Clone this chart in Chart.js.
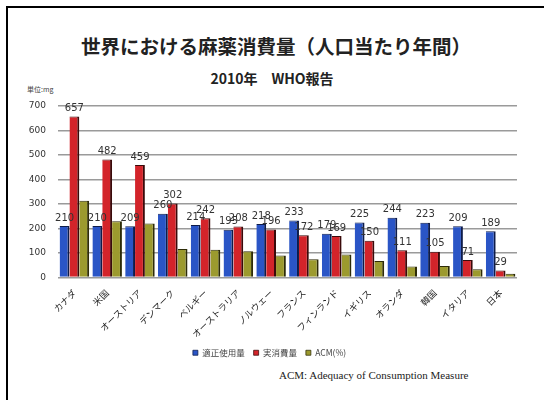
<!DOCTYPE html>
<html><head><meta charset="utf-8">
<script src="https://cdn.jsdelivr.net/npm/chart.js@4"></script>
<style>
html,body{margin:0;padding:0;background:#fff;}
#wrap{position:relative;width:544px;height:400px;overflow:hidden;background:#fff;}
#frame{position:absolute;left:6px;top:6px;width:540px;height:420px;border-left:2px solid #000;border-top:2px solid #000;border-right:2px solid #000;box-sizing:border-box;}
.t{position:absolute;white-space:nowrap;}
#title{left:4px;width:544px;top:31px;text-align:center;font:bold 19.5px "Noto Sans CJK JP";color:#222;}
#sub{left:0;width:544px;top:68px;text-align:center;font:bold 14px "Noto Sans CJK JP";color:#222;}
#unit{left:27px;top:84px;font:7px "Noto Sans CJK JP";color:#444;}
#note{left:279px;top:369px;font:11px "Liberation Serif";color:#222;}
canvas{position:absolute;left:0;top:0;}
</style></head><body>
<div id="wrap">
<div id="frame"></div>
<div class="t" id="title">世界における麻薬消費量（人口当たり年間）</div>
<div class="t" id="sub">2010年　WHO報告</div>
<div class="t" id="unit">単位:mg</div>
<div class="t" id="note">ACM: Adequacy of Consumption Measure</div>
<canvas id="c" width="544" height="400"></canvas>
</div>
<script>
const categories = ["カナダ","米国","オーストリア","デンマーク","ベルギー","オーストラリア","ノルウェー","フランス","フィンランド","イギリス","オランダ","韓国","イタリア","日本"];
const properUse = [210,210,209,260,214,195,218,233,179,225,244,223,209,189];
const actualUse = [657,482,459,302,242,208,196,172,169,150,111,105,71,29];
const acm = [313,230,220,116,113,107,90,74,94,67,45,47,34,15];
const yTicks = [0,100,200,300,400,500,600,700];

const labelPlugin = {
  id:'vals',
  afterDatasetsDraw(chart){
    const ctx = chart.ctx;
    ctx.save();
    ctx.font = '10px "DejaVu Sans", sans-serif';
    ctx.fillStyle = '#333';
    ctx.textAlign = 'center';
    ctx.textBaseline = 'bottom';
    [0,1].forEach(di=>{
      const meta = chart.getDatasetMeta(di);
      meta.data.forEach((bar,i)=>{
        ctx.fillText(String(chart.data.datasets[di].data[i]), bar.x, bar.y-3);
      });
    });
    ctx.restore();
  }
};

new Chart(document.getElementById('c'),{
  type:'bar',
  data:{
    labels:categories,
    datasets:[
      {label:'適正使用量',data:properUse,backgroundColor:'#2a55c6',borderColor:'#0e1c4a',borderWidth:{top:1,right:2,left:0,bottom:0},borderSkipped:false},
      {label:'実消費量',data:actualUse,backgroundColor:'#d3242a',borderColor:'#3a0a0a',borderWidth:{top:1,right:2,left:0,bottom:0},borderSkipped:false},
      {label:'ACM(%)',data:acm,backgroundColor:'#9c9a2e',borderColor:'#2e2c08',borderWidth:{top:1,right:2,left:0,bottom:0},borderSkipped:false}
    ]
  },
  options:{
    responsive:false,
    animation:false,
    devicePixelRatio:1,
    layout:{padding:{left:22,right:27,top:106,bottom:33}},
    datasets:{bar:{categoryPercentage:0.9,barPercentage:1.0}},
    plugins:{
      legend:{position:'bottom',labels:{boxWidth:5,boxHeight:5,font:{size:8.5,family:'"Noto Sans CJK JP"'},color:'#444',padding:9}},
      tooltip:{enabled:false}
    },
    scales:{
      x:{
        grid:{display:false},
        border:{display:false},
        ticks:{maxRotation:45,minRotation:45,font:{size:9,family:'"Noto Sans CJK JP"'},color:'#222',padding:2},
        afterFit(s){s.height=62;}
      },
      y:{
        min:0,max:700,
        afterBuildTicks(s){s.ticks=yTicks.map(v=>({value:v}));},
        afterFit(s){s.width=36;},
        grid:{color:'#9a9a9a',lineWidth:1.5,drawTicks:false},
        border:{display:false},
        ticks:{font:{size:9,family:'"DejaVu Sans"'},color:'#333',padding:12}
      }
    }
  },
  plugins:[labelPlugin]
});
</script>
</body></html>
